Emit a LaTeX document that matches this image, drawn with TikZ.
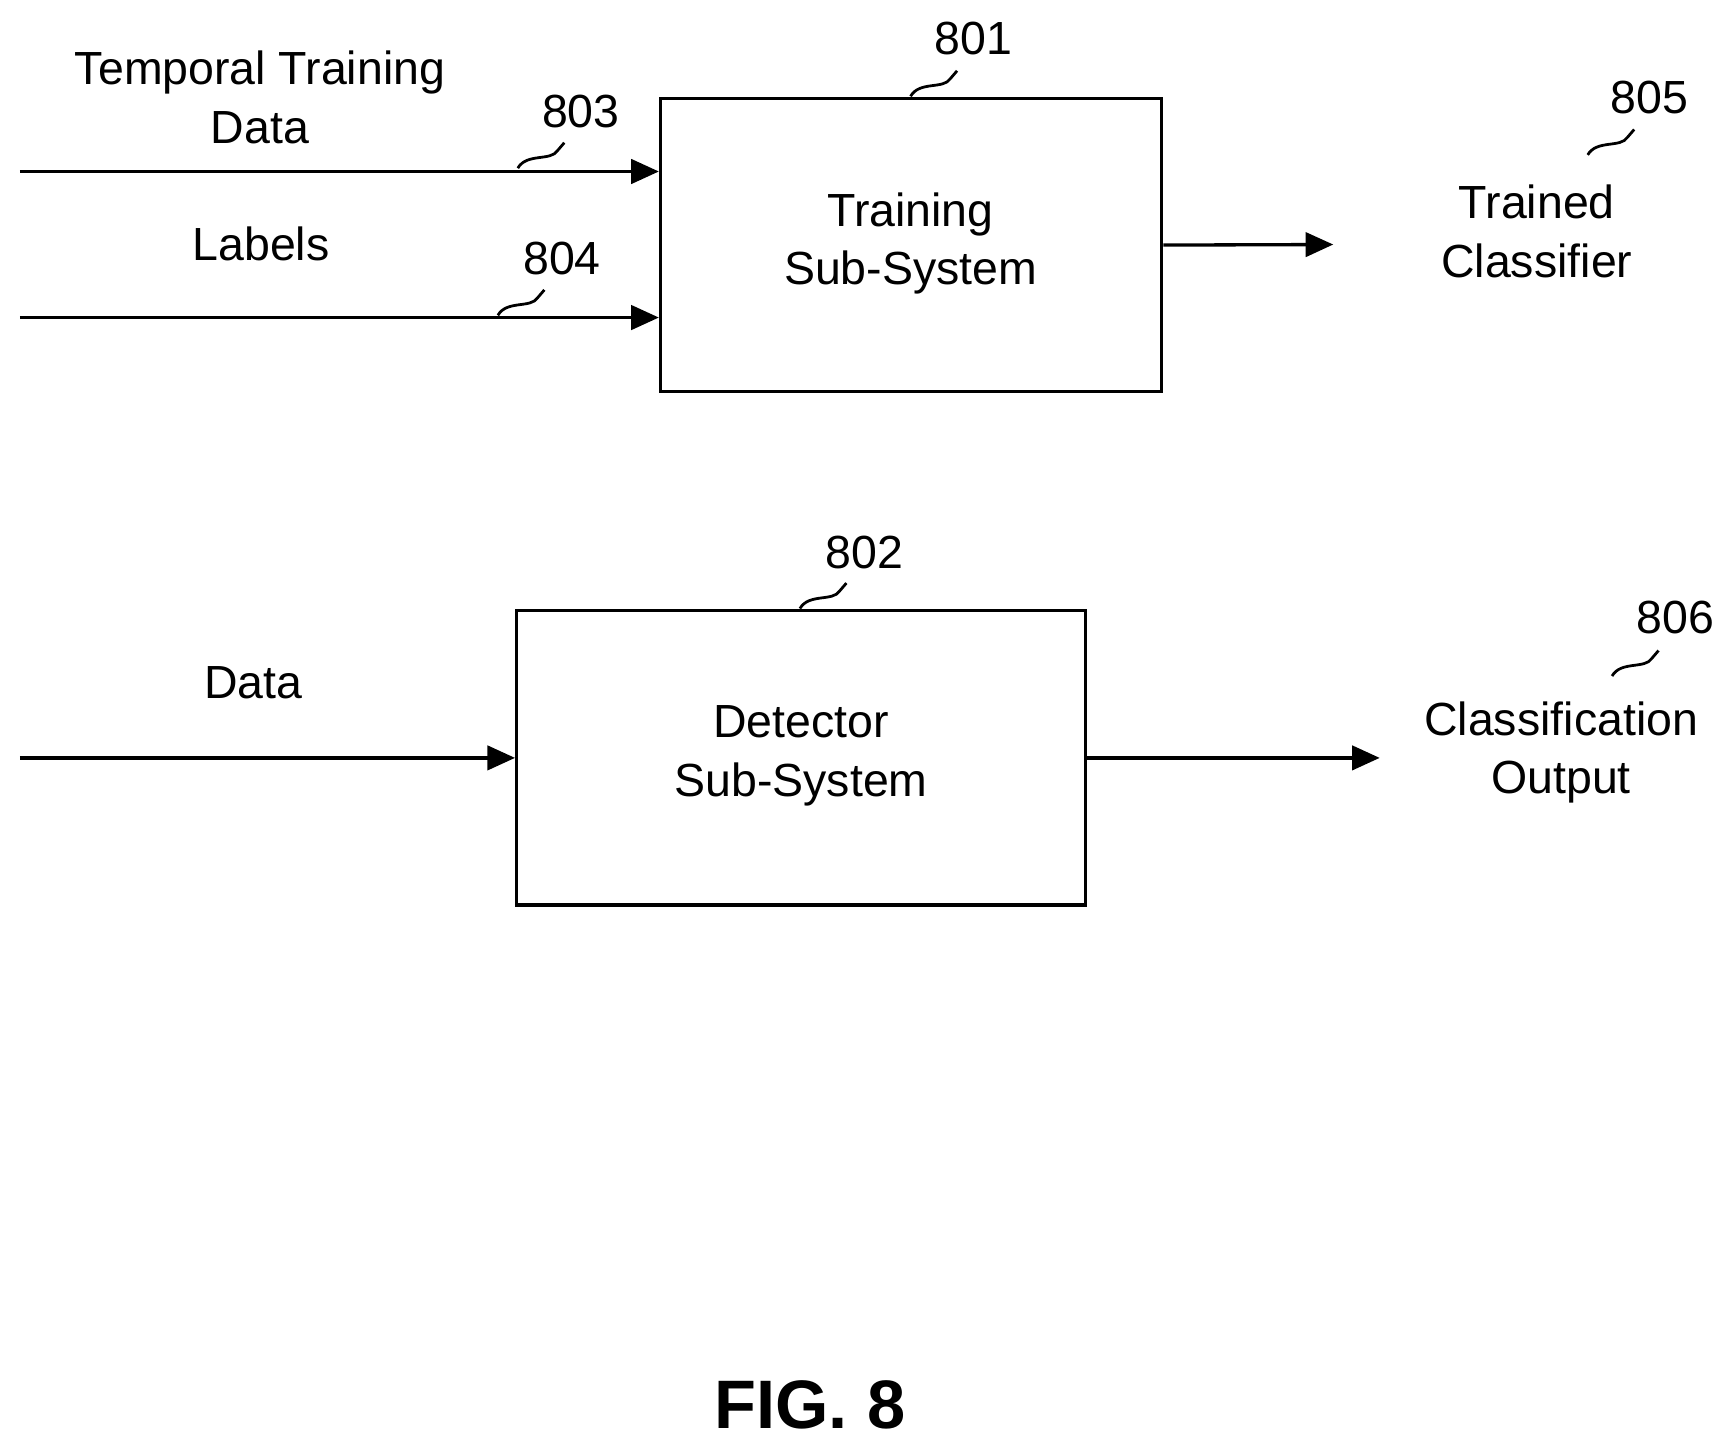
\documentclass[tikz,border=0pt]{standalone}
\usepackage{fontspec}
\setmainfont{Liberation Sans}
\usetikzlibrary{arrows.meta}
\tikzset{every picture/.style={line width=3pt}}
\tikzset{blk/.style={draw,rectangle,inner sep=0pt,line width=3pt},
  txt/.style={inner sep=0pt,align=center,font=\fontsize{42}{53}\selectfont},
  arr/.style={-{Triangle[length=25pt,width=22pt]}},
  lead/.style={line width=2.5pt}}

\begin{document}
\begin{tikzpicture}[x=1pt,y=1pt,yscale=-1,xscale=1]
\useasboundingbox (0,0) rectangle (1560,1304);

%Boxes
\node [blk,minimum width=453pt,minimum height=265pt] (train) at (823.5,221.5) {};
\node [blk,minimum width=514pt,minimum height=266pt] (detect) at (724,685) {};

% Text Node
\node [txt] (ttd) at (235,88) {Temporal Training\\Data};
\node [txt] (lab) at (236,220) {Labels};
\node [txt] (dat) at (229,617) {Data};
\node [txt] (trn) at (823,220) {Training\\Sub-System};
\node [txt] (det) at (724,683) {Detector\\Sub-System};
\node [txt] (tc) at (1389,209) {Trained\\Classifier};
\node [txt] (co) at (1411,680) {Classification\\Output};
\node [txt] (n801) at (880,35) {801};
\node [txt] (n802) at (781,499) {802};
\node [txt] (n803) at (525,101) {803};
\node [txt] (n804) at (508,234) {804};
\node [txt] (n805) at (1491,88) {805};
\node [txt] (n806) at (1514,558) {806};
\node [inner sep=0pt,font=\fontsize{62}{70}\selectfont\bfseries] (fig) at (732,1270) {FIG. 8};

%Free ends
\coordinate (in1) at (18,155);
\coordinate (in2) at (18,287);
\coordinate (in3) at (18,685);
\coordinate (out1) at (1205,221);
\coordinate (out2) at (1247,685);

%Straight Lines
\draw [arr] (in1) -- (in1 -| train.west);
\draw [arr] (in2) -- (in2 -| train.west);
\draw [arr] (in3) -- (in3 -| detect.west);
\draw [arr] (train.east) -- (out1);
\draw [arr] (detect.east) -- (out2);

%Curve Lines
\foreach \x/\y in {468/152,450/285,823/87,1435/140,723/550,1457/611}
  \draw [lead] (\x,\y) .. controls (\x+8,\y-14) and (\x+30,\y-6) .. (\x+36,\y-16) .. controls (\x+39,\y-20) .. (\x+42,\y-23);

\end{tikzpicture}
\end{document}
